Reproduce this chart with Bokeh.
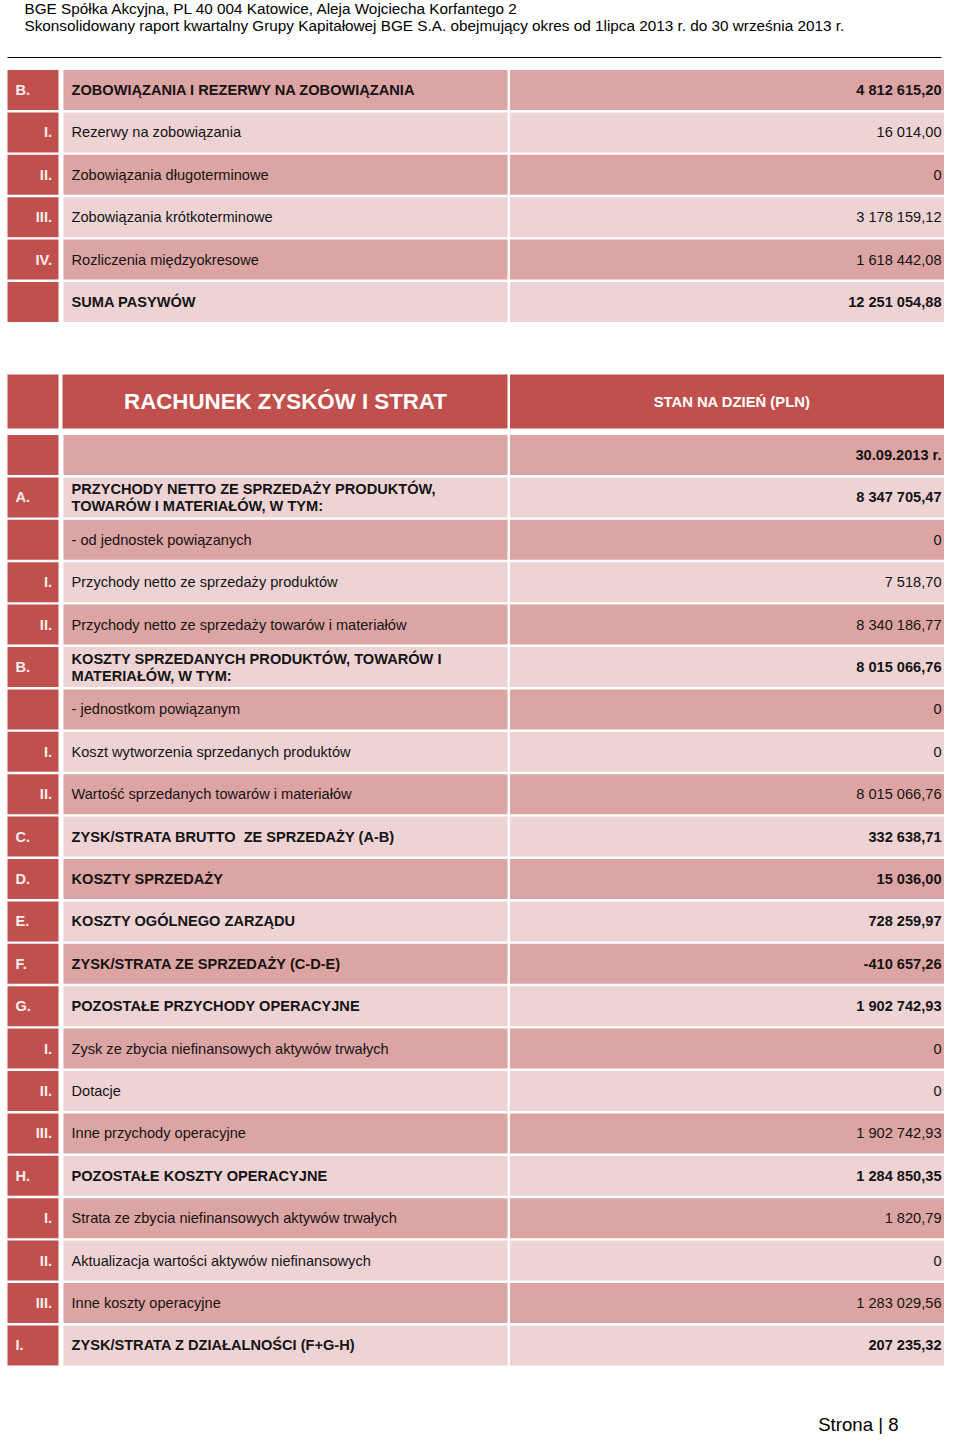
from bokeh.plotting import figure
from bokeh.models import ColumnDataSource, Range1d
from bokeh.embed import file_html
from bokeh.resources import INLINE
from bokeh.core.properties import value

# ---------------- data ----------------
header_lines = [
    "BGE Spółka Akcyjna, PL 40 004 Katowice, Aleja Wojciecha Korfantego 2",
    "Skonsolidowany raport kwartalny Grupy Kapitałowej BGE S.A. obejmujący okres od 1lipca 2013 r. do 30 września 2013 r.",
]

bal_codes = ["B.", "I.", "II.", "III.", "IV.", ""]
bal_labels = [
    "ZOBOWIĄZANIA I REZERWY NA ZOBOWIĄZANIA",
    "Rezerwy na zobowiązania",
    "Zobowiązania długoterminowe",
    "Zobowiązania krótkoterminowe",
    "Rozliczenia międzyokresowe",
    "SUMA PASYWÓW",
]
bal_values = ["4 812 615,20", "16 014,00", "0", "3 178 159,12", "1 618 442,08", "12 251 054,88"]
bal_kinds = ["sec", "sub", "sub", "sub", "sub", "sec"]

inc_title = "RACHUNEK ZYSKÓW I STRAT"
inc_col_title = "STAN NA DZIEŃ (PLN)"
inc_codes = ["", "A.", "", "I.", "II.", "B.", "", "I.", "II.", "C.", "D.", "E.", "F.", "G.",
             "I.", "II.", "III.", "H.", "I.", "II.", "III.", "I."]
inc_labels = [
    "",
    "PRZYCHODY NETTO ZE SPRZEDAŻY PRODUKTÓW,\nTOWARÓW I MATERIAŁÓW, W TYM:",
    "- od jednostek powiązanych",
    "Przychody netto ze sprzedaży produktów",
    "Przychody netto ze sprzedaży towarów i materiałów",
    "KOSZTY SPRZEDANYCH PRODUKTÓW, TOWARÓW I\nMATERIAŁÓW, W TYM:",
    "- jednostkom powiązanym",
    "Koszt wytworzenia sprzedanych produktów",
    "Wartość sprzedanych towarów i materiałów",
    "ZYSK/STRATA BRUTTO \u00a0ZE SPRZEDAŻY (A-B)",
    "KOSZTY SPRZEDAŻY",
    "KOSZTY OGÓLNEGO ZARZĄDU",
    "ZYSK/STRATA ZE SPRZEDAŻY (C-D-E)",
    "POZOSTAŁE PRZYCHODY OPERACYJNE",
    "Zysk ze zbycia niefinansowych aktywów trwałych",
    "Dotacje",
    "Inne przychody operacyjne",
    "POZOSTAŁE KOSZTY OPERACYJNE",
    "Strata ze zbycia niefinansowych aktywów trwałych",
    "Aktualizacja wartości aktywów niefinansowych",
    "Inne koszty operacyjne",
    "ZYSK/STRATA Z DZIAŁALNOŚCI (F+G-H)",
]
inc_values = ["30.09.2013 r.", "8 347 705,47", "0", "7 518,70", "8 340 186,77", "8 015 066,76", "0",
              "0", "8 015 066,76", "332 638,71", "15 036,00", "728 259,97", "-410 657,26",
              "1 902 742,93", "0", "0", "1 902 742,93", "1 284 850,35", "1 820,79", "0",
              "1 283 029,56", "207 235,32"]
inc_kinds = ["date", "sec", "plain", "sub", "sub", "sec", "plain", "sub", "sub", "sec", "sec", "sec",
             "sec", "sec", "sub", "sub", "sub", "sec", "sub", "sub", "sub", "sec"]

page_label = "Strona | 8"

# ---------------- layout / style ----------------
W, H = 944, 1434
RED = "#c0504d"
DARK = "#dca4a3"
LIGHT = "#eed3d4"
TXT = "#141414"
CODE_TXT = "#fbeeee"
FONT = "Liberation Sans"
FS = "14.6px"
PITCH = 42.4
ROW_H = 40.0
C1 = (7, 58)
C2 = (63, 507)
C3 = (509.5, 950)
VAL_X = 941

quads = dict(left=[], right=[], top=[], bottom=[], color=[])
texts = dict(x=[], y=[], text=[], align=[], style=[], color=[], size=[])


def add_quad(l, r, t, b, c):
    quads["left"].append(l); quads["right"].append(r)
    quads["top"].append(t); quads["bottom"].append(b); quads["color"].append(c)


def add_text(x, y, s, align, style, color, size=FS):
    texts["x"].append(x); texts["y"].append(y); texts["text"].append(s)
    texts["align"].append(align); texts["style"].append(style)
    texts["color"].append(color); texts["size"].append(size)


def add_rows(codes, labels, values, kinds, top0, first_dark):
    for i, (code, lab, val, kind) in enumerate(zip(codes, labels, values, kinds)):
        t = top0 + i * PITCH
        b = t + ROW_H
        yc = (t + b) / 2
        fill = DARK if (i % 2 == 0) == first_dark else LIGHT
        add_quad(C1[0], C1[1], t, b, RED)
        add_quad(C2[0], C2[1], t, b, fill)
        add_quad(C3[0], C3[1], t, b, fill)
        bold = kind in ("sec", "date")
        st = "bold" if bold else "normal"
        if code:
            if kind == "sec":
                add_text(15, yc, code, "left", "bold", CODE_TXT)
            else:
                add_text(51.5, yc, code, "right", "bold", CODE_TXT)
        lines = lab.split("\n") if lab else []
        n = len(lines)
        for k, ln in enumerate(lines):
            add_text(71, yc + (k - (n - 1) / 2) * 17, ln, "left", st, TXT)
        add_text(VAL_X, yc, val, "right", st, TXT)


add_rows(bal_codes, bal_labels, bal_values, bal_kinds, 69.5, True)

# income statement header
add_quad(C1[0], C1[1], 374, 428, RED)
add_quad(C2[0] - 1, C2[1], 374, 428, RED)
add_quad(C3[0], C3[1], 374, 428, RED)
add_text(285, 401, inc_title, "center", "bold", "#ffffff", "22.3px")
add_text(731.5, 401, inc_col_title, "center", "bold", "#ffffff", "14.8px")

add_rows(inc_codes, inc_labels, inc_values, inc_kinds, 434.5, True)

# page header / footer
add_text(24, 8, header_lines[0], "left", "normal", "#000000", "15.3px")
add_text(24, 25, header_lines[1], "left", "normal", "#000000", "15.3px")
add_text(898, 1424, page_label, "right", "normal", "#000000", "18.6px")

# ---------------- figure ----------------
p = figure(width=W, height=H, output_backend="svg", toolbar_location=None,
           x_axis_type=None, y_axis_type=None,
           x_range=Range1d(0, W), y_range=Range1d(H, 0),
           min_border=0, min_border_left=0, min_border_right=0,
           min_border_top=0, min_border_bottom=0)
p.outline_line_color = None
p.grid.visible = False
p.background_fill_color = "#ffffff"
p.border_fill_color = "#ffffff"

p.quad(left="left", right="right", top="top", bottom="bottom", fill_color="color",
       line_color=None, source=ColumnDataSource(quads))

p.line(x=[7, 941], y=[57, 57], line_color="#000000", line_width=1)

p.text(x="x", y="y", text="text", text_align="align", text_baseline="middle",
       text_font=value(FONT), text_font_style="style", text_color="color",
       text_font_size="size", source=ColumnDataSource(texts))

open("out.html", "w").write(file_html(p, INLINE))
